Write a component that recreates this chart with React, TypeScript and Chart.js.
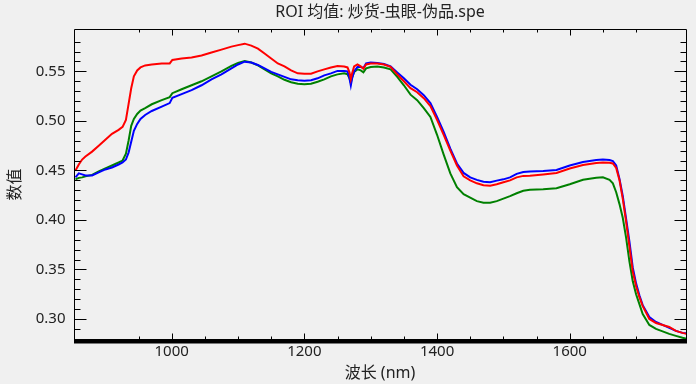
import { useEffect, useRef } from "react";
import { Chart, registerables } from "chart.js";

Chart.register(...registerables);

const titleText = "ROI 均值: 炒货-虫眼-伪品.spe";
const xAxisTitle = "波长 (nm)";
const yAxisTitle = "数值";

const xMin = 852;
const xMax = 1776;
const yMin = 0.2788;
const yMax = 0.5928;

const wavelengths = [
  855, 860, 865, 870, 880, 890, 900, 910, 920, 926, 931, 935, 939, 943, 948, 953, 960, 970, 985, 997,
  1001, 1015, 1030, 1045, 1060, 1075, 1090, 1100, 1110, 1120, 1130, 1140, 1150, 1160, 1170, 1180,
  1190, 1200, 1210, 1220, 1230, 1240, 1250, 1260, 1265, 1268, 1270, 1272, 1275, 1280, 1285, 1289,
  1293, 1300, 1310, 1320, 1330, 1340, 1350, 1360, 1370, 1380, 1390, 1400, 1410, 1420, 1430, 1440,
  1450, 1460, 1470, 1480, 1490, 1500, 1510, 1520, 1530, 1540, 1560, 1580, 1600, 1620, 1640, 1650,
  1660, 1665, 1670, 1675, 1680, 1685, 1690, 1695, 1700, 1705, 1710, 1720, 1730, 1740, 1750, 1760,
  1770, 1776,
];

const redValues = [
  0.450, 0.456, 0.461, 0.464, 0.469, 0.475, 0.481, 0.487, 0.491, 0.494, 0.501, 0.517, 0.533, 0.545,
  0.551, 0.554, 0.556, 0.557, 0.558, 0.558,
  0.5615, 0.563, 0.564, 0.566, 0.569, 0.572, 0.575, 0.5765, 0.578, 0.576, 0.573, 0.568, 0.563, 0.558,
  0.555, 0.551,
  0.548, 0.5475, 0.5477, 0.550, 0.552, 0.554, 0.5555, 0.555, 0.554, 0.549, 0.542, 0.548, 0.555, 0.557,
  0.555, 0.5527,
  0.557, 0.558, 0.558, 0.557, 0.5545, 0.547, 0.540, 0.533, 0.529, 0.523, 0.515, 0.501, 0.486, 0.470,
  0.455, 0.444,
  0.440, 0.437, 0.435, 0.4345, 0.436, 0.438, 0.440, 0.443, 0.4445, 0.4447, 0.446, 0.4475, 0.452,
  0.4555, 0.4575, 0.458,
  0.4578, 0.457, 0.4525, 0.440, 0.421, 0.398, 0.373, 0.348, 0.333, 0.322, 0.313, 0.300, 0.296, 0.294,
  0.292, 0.288,
  0.286, 0.285,
];

const blueValues = [
  0.443, 0.447, 0.446, 0.445, 0.445, 0.448, 0.451, 0.453, 0.456, 0.458, 0.461, 0.468, 0.479, 0.490,
  0.497, 0.502, 0.506, 0.510, 0.5145, 0.518,
  0.5233, 0.527, 0.531, 0.536, 0.542, 0.547, 0.553, 0.557, 0.5598, 0.559, 0.5565, 0.553, 0.5495,
  0.547, 0.5445, 0.542,
  0.541, 0.5405, 0.541, 0.543, 0.546, 0.548, 0.5505, 0.5505, 0.550, 0.543, 0.5358, 0.543, 0.550,
  0.5545, 0.5545, 0.5535,
  0.558, 0.559, 0.5585, 0.5575, 0.555, 0.549, 0.543, 0.5365, 0.532, 0.526, 0.518, 0.504, 0.489, 0.472,
  0.457, 0.4475,
  0.443, 0.4405, 0.4385, 0.438, 0.4397, 0.441, 0.443, 0.4465, 0.4485, 0.449, 0.4495, 0.4505, 0.455,
  0.4585, 0.4605, 0.461,
  0.4605, 0.4595, 0.455, 0.4415, 0.424, 0.401, 0.378, 0.352, 0.336, 0.324, 0.314, 0.302, 0.297, 0.294,
  0.291, 0.288,
  0.286, 0.2855,
];

const greenValues = [
  0.441, 0.4425, 0.443, 0.444, 0.4455, 0.449, 0.452, 0.455, 0.458, 0.460, 0.467, 0.480, 0.495, 0.502,
  0.507, 0.5105, 0.513, 0.5168, 0.521, 0.524,
  0.528, 0.532, 0.536, 0.540, 0.545, 0.550, 0.5555, 0.5585, 0.5605, 0.559, 0.556, 0.552, 0.548, 0.545,
  0.5415, 0.539,
  0.5375, 0.537, 0.5375, 0.5395, 0.542, 0.545, 0.547, 0.548, 0.547, 0.543, 0.5385, 0.544, 0.5495,
  0.552, 0.551, 0.549,
  0.553, 0.5545, 0.555, 0.554, 0.552, 0.5445, 0.536, 0.5265, 0.521, 0.513, 0.504, 0.486, 0.466, 0.447,
  0.433, 0.426,
  0.4225, 0.419, 0.4175, 0.4175, 0.419, 0.4215, 0.424, 0.427, 0.4295, 0.4305, 0.431, 0.432, 0.436,
  0.4405, 0.4425, 0.443,
  0.4405, 0.437, 0.428, 0.416, 0.402, 0.382, 0.358, 0.338, 0.325, 0.315, 0.305, 0.294, 0.290, 0.2875,
  0.285, 0.283,
  0.281, 0.280,
];

const seriesColors = { red: "#ff0000", blue: "#0000ff", green: "#008000" };

const FONT = '"Noto Sans", "Noto Sans CJK SC", sans-serif';
const TEXT_COLOR = "#222222";

const isMultiple = (v: number, step: number) => {
  const r = v / step;
  return Math.abs(r - Math.round(r)) < 1e-6;
};

const framePlugin = {
  id: "frame",
  beforeDraw(chart: any) {
    const { ctx, width, height } = chart;
    ctx.save();
    ctx.fillStyle = "#f0f0f0";
    ctx.fillRect(0, 0, width, height);
    ctx.restore();
  },
  afterDraw(chart: any) {
    const { ctx, chartArea } = chart;
    const xs = chart.scales.x;
    const ys = chart.scales.y;
    const L = Math.round(chartArea.left) + 0.5;
    const R = Math.round(chartArea.right) - 0.5;
    const T = Math.round(chartArea.top) + 0.5;
    const B = Math.round(chartArea.bottom) - 0.5;
    ctx.save();
    ctx.strokeStyle = "#000";
    ctx.lineWidth = 1;
    ctx.beginPath();
    ctx.rect(L, T, R - L, B - T);
    ctx.stroke();
    // thick bottom bar
    ctx.fillStyle = "#000";
    ctx.fillRect(
      Math.round(chartArea.left),
      Math.round(chartArea.bottom) - 1,
      Math.round(chartArea.right) - Math.round(chartArea.left),
      4.5
    );
    // ticks (inward)
    ctx.beginPath();
    for (const t of xs.ticks) {
      if (!isMultiple(t.value, 50)) continue;
      const major = isMultiple(t.value, 200);
      const px = Math.round(xs.getPixelForValue(t.value)) + 0.5;
      const lb = major ? 6 : 3;
      const lt = major ? 6 : 3;
      ctx.moveTo(px, B);
      ctx.lineTo(px, B - lb);
      ctx.moveTo(px, T);
      ctx.lineTo(px, T + lt);
    }
    for (const t of ys.ticks) {
      if (!isMultiple(t.value, 0.01)) continue;
      const major = isMultiple(t.value, 0.05);
      const py = Math.round(ys.getPixelForValue(t.value)) + 0.5;
      const len = major ? 12 : 6;
      ctx.moveTo(L, py);
      ctx.lineTo(L + len, py);
      ctx.moveTo(R, py);
      ctx.lineTo(R - len, py);
    }
    ctx.stroke();
    // title
    ctx.fillStyle = TEXT_COLOR;
    ctx.font = `16px ${FONT}`;
    ctx.textAlign = "center";
    ctx.textBaseline = "middle";
    ctx.fillText(titleText, (chartArea.left + chartArea.right) / 2, 12);
    ctx.restore();
  },
};

export default function App() {
  const canvasRef = useRef<HTMLCanvasElement | null>(null);

  useEffect(() => {
    if (!canvasRef.current) return;
    const mk = (vals: number[]) => wavelengths.map((w, i) => ({ x: w, y: vals[i] }));
    const chart = new Chart(canvasRef.current, {
      type: "line",
      data: {
        datasets: [
          { label: "red", data: mk(redValues), borderColor: seriesColors.red, borderWidth: 2, pointRadius: 0, tension: 0, fill: false },
          { label: "blue", data: mk(blueValues), borderColor: seriesColors.blue, borderWidth: 2, pointRadius: 0, tension: 0, fill: false },
          { label: "green", data: mk(greenValues), borderColor: seriesColors.green, borderWidth: 2, pointRadius: 0, tension: 0, fill: false },
        ],
      },
      options: {
        animation: false,
        responsive: true,
        maintainAspectRatio: false,
        parsing: false as any,
        layout: { padding: { top: 29, right: 9.5, left: 0, bottom: 0 } },
        plugins: { legend: { display: false }, tooltip: { enabled: false }, title: { display: false } },
        scales: {
          x: {
            type: "linear",
            min: xMin,
            max: xMax,
            grid: { display: false, drawTicks: false },
            border: { display: false },
            ticks: {
              stepSize: 50,
              autoSkip: false,
              maxRotation: 0,
              padding: 3,
              color: TEXT_COLOR,
              font: { family: FONT, size: 15 },
              callback: (v: any) => (isMultiple(Number(v), 200) ? String(Math.round(Number(v))) : ""),
            },
            title: { display: true, text: xAxisTitle, color: TEXT_COLOR, font: { family: FONT, size: 16 }, padding: { top: 0, bottom: 1 } },
            afterFit: (s: any) => { s.height = 44; },
          },
          y: {
            type: "linear",
            min: yMin,
            max: yMax,
            grid: { display: false, drawTicks: false },
            border: { display: false },
            ticks: {
              stepSize: 0.01,
              autoSkip: false,
              padding: 8,
              color: TEXT_COLOR,
              font: { family: FONT, size: 15 },
              callback: (v: any) => (isMultiple(Number(v), 0.05) ? Number(v).toFixed(2) : ""),
            },
            title: { display: true, text: yAxisTitle, color: TEXT_COLOR, font: { family: FONT, size: 16 }, padding: { top: 6, bottom: 0 } },
            afterFit: (s: any) => { s.width = 73.5; },
          },
        },
      },
      plugins: [framePlugin],
    });
    return () => chart.destroy();
  }, []);

  return (
    <div style={{ position: "fixed", left: 0, top: 0, width: 696, height: 384, background: "#f0f0f0" }}>
      <canvas ref={canvasRef} />
    </div>
  );
}
